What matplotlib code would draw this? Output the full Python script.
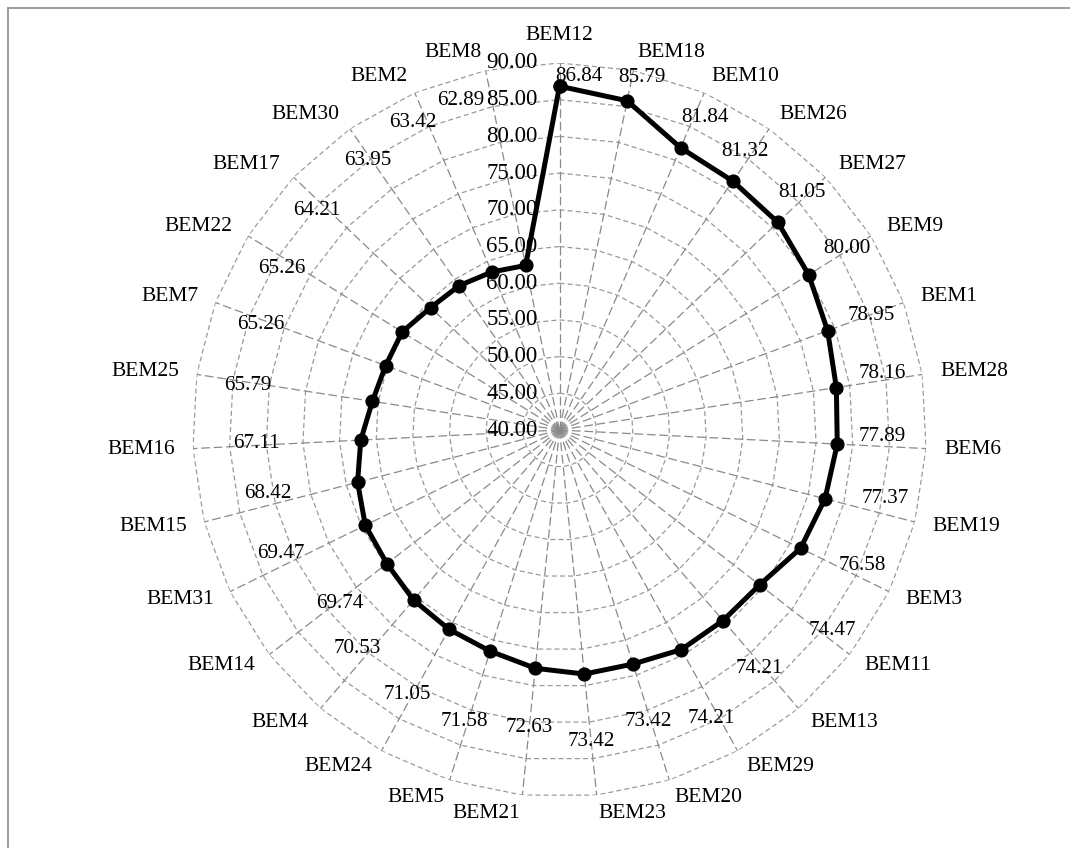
import numpy as np
import matplotlib
matplotlib.use("Agg")
import matplotlib.pyplot as plt
from matplotlib.lines import Line2D

plt.rcParams['font.family'] = ['Liberation Serif', 'DejaVu Serif']

# categories clockwise from the top spoke
categories = ['BEM12', 'BEM18', 'BEM10', 'BEM26', 'BEM27', 'BEM9', 'BEM1', 'BEM28',
              'BEM6', 'BEM19', 'BEM3', 'BEM11', 'BEM13', 'BEM29', 'BEM20', 'BEM23',
              'BEM21', 'BEM5', 'BEM24', 'BEM4', 'BEM14', 'BEM31', 'BEM15', 'BEM16',
              'BEM25', 'BEM7', 'BEM22', 'BEM17', 'BEM30', 'BEM2', 'BEM8']
values = [86.84, 85.79, 81.84, 81.32, 81.05, 80.00, 78.95, 78.16,
          77.89, 77.37, 76.58, 74.47, 74.21, 74.21, 73.42, 73.42,
          72.63, 71.58, 71.05, 70.53, 69.74, 69.47, 68.42, 67.11,
          65.79, 65.26, 65.26, 64.21, 63.95, 63.42, 62.89]
rings = [40, 45, 50, 55, 60, 65, 70, 75, 80, 85, 90]

# where each value label sits: radius (axis units) and angle shift (degrees)
label_r = [88.2, 89.4, 86.9, 85.5, 86.3, 86.3, 85.3, 84.6,
           84.0, 85.4, 85.2, 86.1, 82.4, 84.4, 81.5, 82.6,
           80.8, 81.8, 81.6, 80.6, 78.1, 81.5, 80.7, 81.3,
           82.9, 83.2, 83.8, 84.6, 85.1, 86.4, 86.9]
label_dt = [3.2, 1.6, 1.7, -1.2, -0.9, -0.3, 0.1, -1.3,
            -1.7, -2.7, -2.1, -1.5, 0.6, 1.2, 0.4, -0.1,
            -0.1, 0.6, 0.8, 2.1, -0.5, 2.3, 2.3, 0.3,
            -0.5, -0.9, -1.7, -1.5, -0.6, -2.2, -5.1]

n = len(categories)
theta = np.arange(n) * 2 * np.pi / n
theta_c = np.append(theta, theta[0])

W, H = 1070, 848
fig = plt.figure(figsize=(W / 100, H / 100), dpi=100)
cx, cy, R = 559.5, 430, 367
ax = fig.add_axes([(cx - R) / W, (H - cy - R) / H, 2 * R / W, 2 * R / H],
                  projection='polar')
ax.set_theta_zero_location('N')
ax.set_theta_direction(-1)
ax.set_ylim(40, 90)
ax.grid(False)
ax.set_xticks([])
ax.set_yticks([])
ax.spines['polar'].set_visible(False)
ax.patch.set_alpha(0)

# polygon rings and spokes
for v in rings[1:]:
    ax.plot(theta_c, [v] * (n + 1), color='#9a9a9a', lw=0.9,
            dashes=(4, 2.5), zorder=1)
for t in theta:
    ax.plot([t, t], [40, 90], color='#8a8a8a', lw=0.9,
            dashes=(7, 3), zorder=1)

# data series
vals_c = values + values[:1]
ax.plot(theta_c, vals_c, color='black', lw=3.6, marker='o', ms=9.2,
        zorder=5, clip_on=False)

# radial axis labels
for v in rings:
    ax.annotate(f'{v:.2f}', xy=(0, v), xytext=(-22, 0), textcoords='offset pixels',
                ha='right', va='center', fontsize=16.5, zorder=6,
                annotation_clip=False)

# value labels
for t, v, r, dt in zip(theta, values, label_r, label_dt):
    ax.text(t + np.deg2rad(dt), r, f'{v:.2f}', ha='center', va='center',
            fontsize=15.2, zorder=6)

# category labels
gap = 18
for t, name in zip(theta, categories):
    s, c = np.sin(t), np.cos(t)
    if abs(s) < 0.05:
        ha = 'center'
        va = 'bottom' if c > 0 else 'top'
    else:
        ha = 'left' if s > 0 else 'right'
        va = 'center'
    ax.annotate(name, xy=(t, 90), xytext=(gap * s, gap * c),
                textcoords='offset pixels', ha=ha, va=va, fontsize=15.5,
                annotation_clip=False)

# chart frame
x0 = 8 / W
y0 = 1 - 8 / H
fig.add_artist(Line2D([x0, 1], [y0, y0], color='#8c8c8c', lw=1.2))
fig.add_artist(Line2D([x0, x0], [0, y0], color='#8c8c8c', lw=1.2))

fig.savefig('out.png', dpi=100, facecolor='white')
